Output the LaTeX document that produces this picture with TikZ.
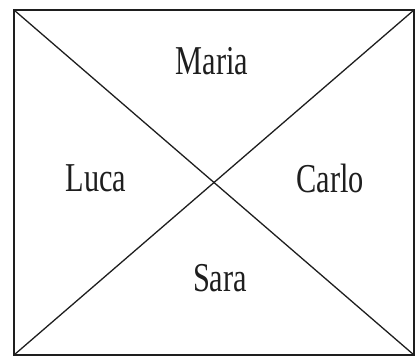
\documentclass[tikz,border=0pt]{standalone}
\usepackage{fontspec}
\setmainfont{Liberation Serif}
\usetikzlibrary{positioning}
\definecolor{ink}{RGB}{30,30,30}
\newcommand{\narrow}[1]{\scalebox{0.74}[1]{#1}}
\tikzset{
  frame/.style={draw=ink,line width=1.6pt},
  cross/.style={draw=ink,line width=1.3pt},
  person/.style={font=\fontsize{41}{41}\selectfont,text=ink,inner sep=0pt},
}
\begin{document}
\begin{tikzpicture}[x=1pt,y=1pt]
  \useasboundingbox (0,0) rectangle (418,359);
  % corners of the room
  \coordinate (sw) at (14,4);
  \coordinate (se) at (414,4);
  \coordinate (ne) at (414,349);
  \coordinate (nw) at (14,349);
  \draw[frame] (sw) rectangle (ne);
  \draw[cross] (nw) -- (se);
  \draw[cross] (sw) -- (ne);
  % the four names
  \node[person] (maria) at (212,298) {\narrow{Maria}};
  \node[person] (luca) at (96,181) {\narrow{Luca}};
  \node[person] (carlo) at (330,181) {\narrow{Carlo}};
  \node[person] (sara) at (220,81) {\narrow{Sara}};
\end{tikzpicture}
\end{document}
